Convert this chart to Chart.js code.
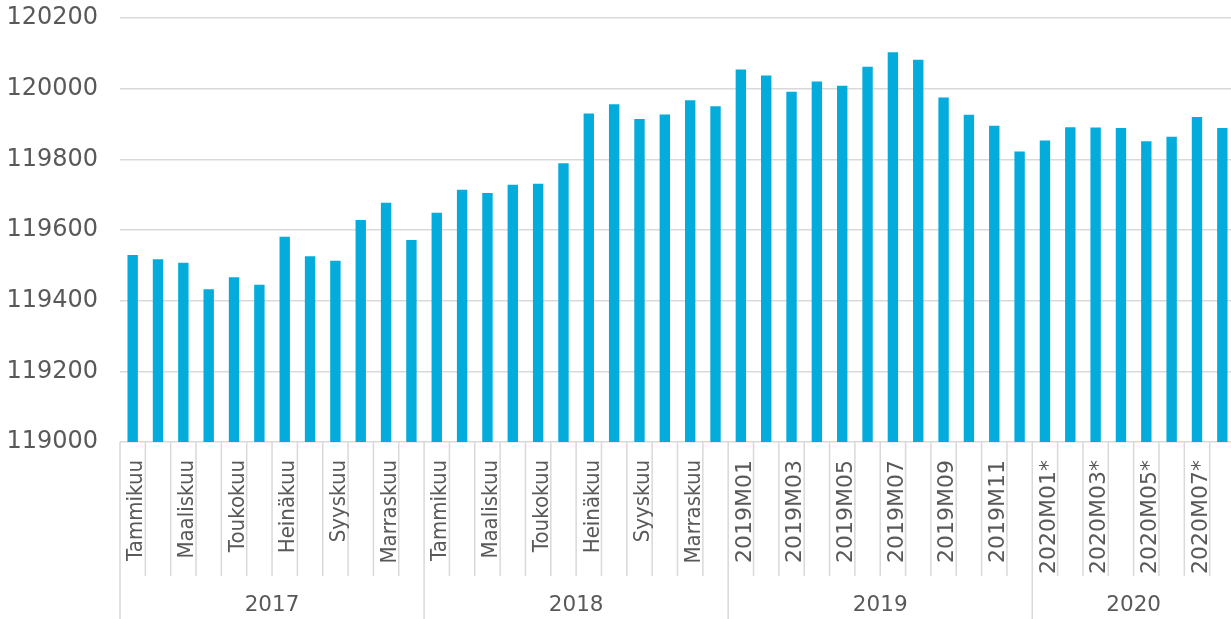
<!DOCTYPE html>
<html lang="fi">
<head>
<meta charset="UTF-8">
<title>Kuukausittainen kehitys 2017-2020</title>
<script src="https://cdn.jsdelivr.net/npm/chart.js@4.4.1/dist/chart.umd.min.js"></script>
<style>
html, body { margin: 0; padding: 0; background: #fff; overflow: hidden; }
#wrap { width: 1235px; height: 619px; }
</style>
</head>
<body>
<div id="wrap"><canvas id="chart"></canvas></div>
<script>
// category labels per year
const years = ['2017', '2018', '2019', '2020'];
const months2017 = ['Tammikuu', 'Helmikuu', 'Maaliskuu', 'Huhtikuu', 'Toukokuu', 'Kesäkuu',
                    'Heinäkuu', 'Elokuu', 'Syyskuu', 'Lokakuu', 'Marraskuu', 'Joulukuu'];
const months2018 = ['Tammikuu', 'Helmikuu', 'Maaliskuu', 'Huhtikuu', 'Toukokuu', 'Kesäkuu',
                    'Heinäkuu', 'Elokuu', 'Syyskuu', 'Lokakuu', 'Marraskuu', 'Joulukuu'];
const months2019 = ['2019M01', '2019M02', '2019M03', '2019M04', '2019M05', '2019M06',
                    '2019M07', '2019M08', '2019M09', '2019M10', '2019M11', '2019M12'];
const months2020 = ['2020M01*', '2020M02*', '2020M03*', '2020M04*', '2020M05*', '2020M06*',
                    '2020M07*', '2020M08*'];

// values
const values2017 = [119529, 119517, 119507, 119432, 119466, 119445,
                    119581, 119526, 119513, 119628, 119677, 119572];
const values2018 = [119649, 119714, 119705, 119728, 119731, 119789,
                    119930, 119956, 119914, 119927, 119967, 119950];
const values2019 = [120054, 120037, 119991, 120020, 120008, 120062,
                    120103, 120082, 119975, 119926, 119895, 119822];
const values2020 = [119853, 119891, 119890, 119889, 119851, 119864, 119920, 119889];

const yMin = 119000;
const yMax = 120200;
const yStep = 200;

const groups = [months2017, months2018, months2019, months2020];
const labels = [].concat(...groups);
const values = [].concat(values2017, values2018, values2019, values2020);

const textColor = '#595959';
const lineColor = '#d9d9d9';
const fontFamily = '"DejaVu Sans", sans-serif';

// two level category axis: month labels (every 2nd), separators and years
const categoryAxis = {
    id: 'categoryAxis',
    afterDraw(chart) {
        const x = chart.scales.x;
        const ctx = chart.ctx;
        const step = x.getPixelForValue(1) - x.getPixelForValue(0);
        const top = chart.chartArea.bottom;
        const bottom = chart.height;

        const boundaries = [0];
        groups.forEach(g => boundaries.push(boundaries[boundaries.length - 1] + g.length));

        ctx.save();
        ctx.strokeStyle = lineColor;
        ctx.lineWidth = 1.5;
        for (let i = 0; i <= labels.length; i++) {
            const bx = x.getPixelForValue(i) - step / 2;
            const isYear = boundaries.includes(i) && i < labels.length;
            ctx.beginPath();
            ctx.moveTo(bx, top);
            ctx.lineTo(bx, isYear ? bottom : top + 134);
            ctx.stroke();
        }

        // month labels, rotated, hanging from the axis
        ctx.fillStyle = textColor;
        ctx.font = '22px ' + fontFamily;
        ctx.textAlign = 'right';
        ctx.textBaseline = 'alphabetic';
        labels.forEach((lab, i) => {
            if (i % 2 !== 0) return;
            ctx.save();
            ctx.translate(x.getPixelForValue(i) + 9.7, top + 18);
            ctx.rotate(-Math.PI / 2);
            // month names are set a bit narrower than the coded labels
            if (!/\d/.test(lab)) ctx.scale(0.9, 1);
            ctx.fillText(lab, 0, 0);
            ctx.restore();
        });

        ctx.font = '21.5px ' + fontFamily;
        ctx.textAlign = 'center';
        ctx.textBaseline = 'middle';
        years.forEach((y, k) => {
            const cx = (x.getPixelForValue(boundaries[k]) + x.getPixelForValue(boundaries[k + 1] - 1)) / 2;
            ctx.fillText(y, cx, top + 163);
        });
        ctx.restore();
    }
};

new Chart(document.getElementById('chart'), {
    type: 'bar',
    data: {
        labels: labels,
        datasets: [{
            data: values,
            backgroundColor: '#03acda',
            barPercentage: 0.41,
            categoryPercentage: 1.0
        }]
    },
    options: {
        responsive: true,
        maintainAspectRatio: false,
        animation: false,
        layout: { padding: { top: 18, right: 0, bottom: 0, left: 0 } },
        plugins: {
            legend: { display: false },
            tooltip: { enabled: false }
        },
        scales: {
            x: {
                offset: true,
                grid: { display: false },
                border: { display: false },
                ticks: { display: false },
                afterFit: s => {
                    s.height = 177;
                    s.paddingLeft = 0;
                    s.paddingRight = 0;
                }
            },
            y: {
                min: yMin,
                max: yMax,
                afterFit: s => {
                    s.width = 120;
                    s.paddingTop = 0;
                    s.paddingBottom = 0;
                },
                border: { display: false },
                grid: { color: lineColor, lineWidth: 1.5, drawTicks: false },
                ticks: {
                    stepSize: yStep,
                    padding: 22,
                    color: textColor,
                    font: { family: fontFamily, size: 24 },
                    callback: v => String(v)
                }
            }
        }
    },
    plugins: [categoryAxis]
});
</script>
</body>
</html>
